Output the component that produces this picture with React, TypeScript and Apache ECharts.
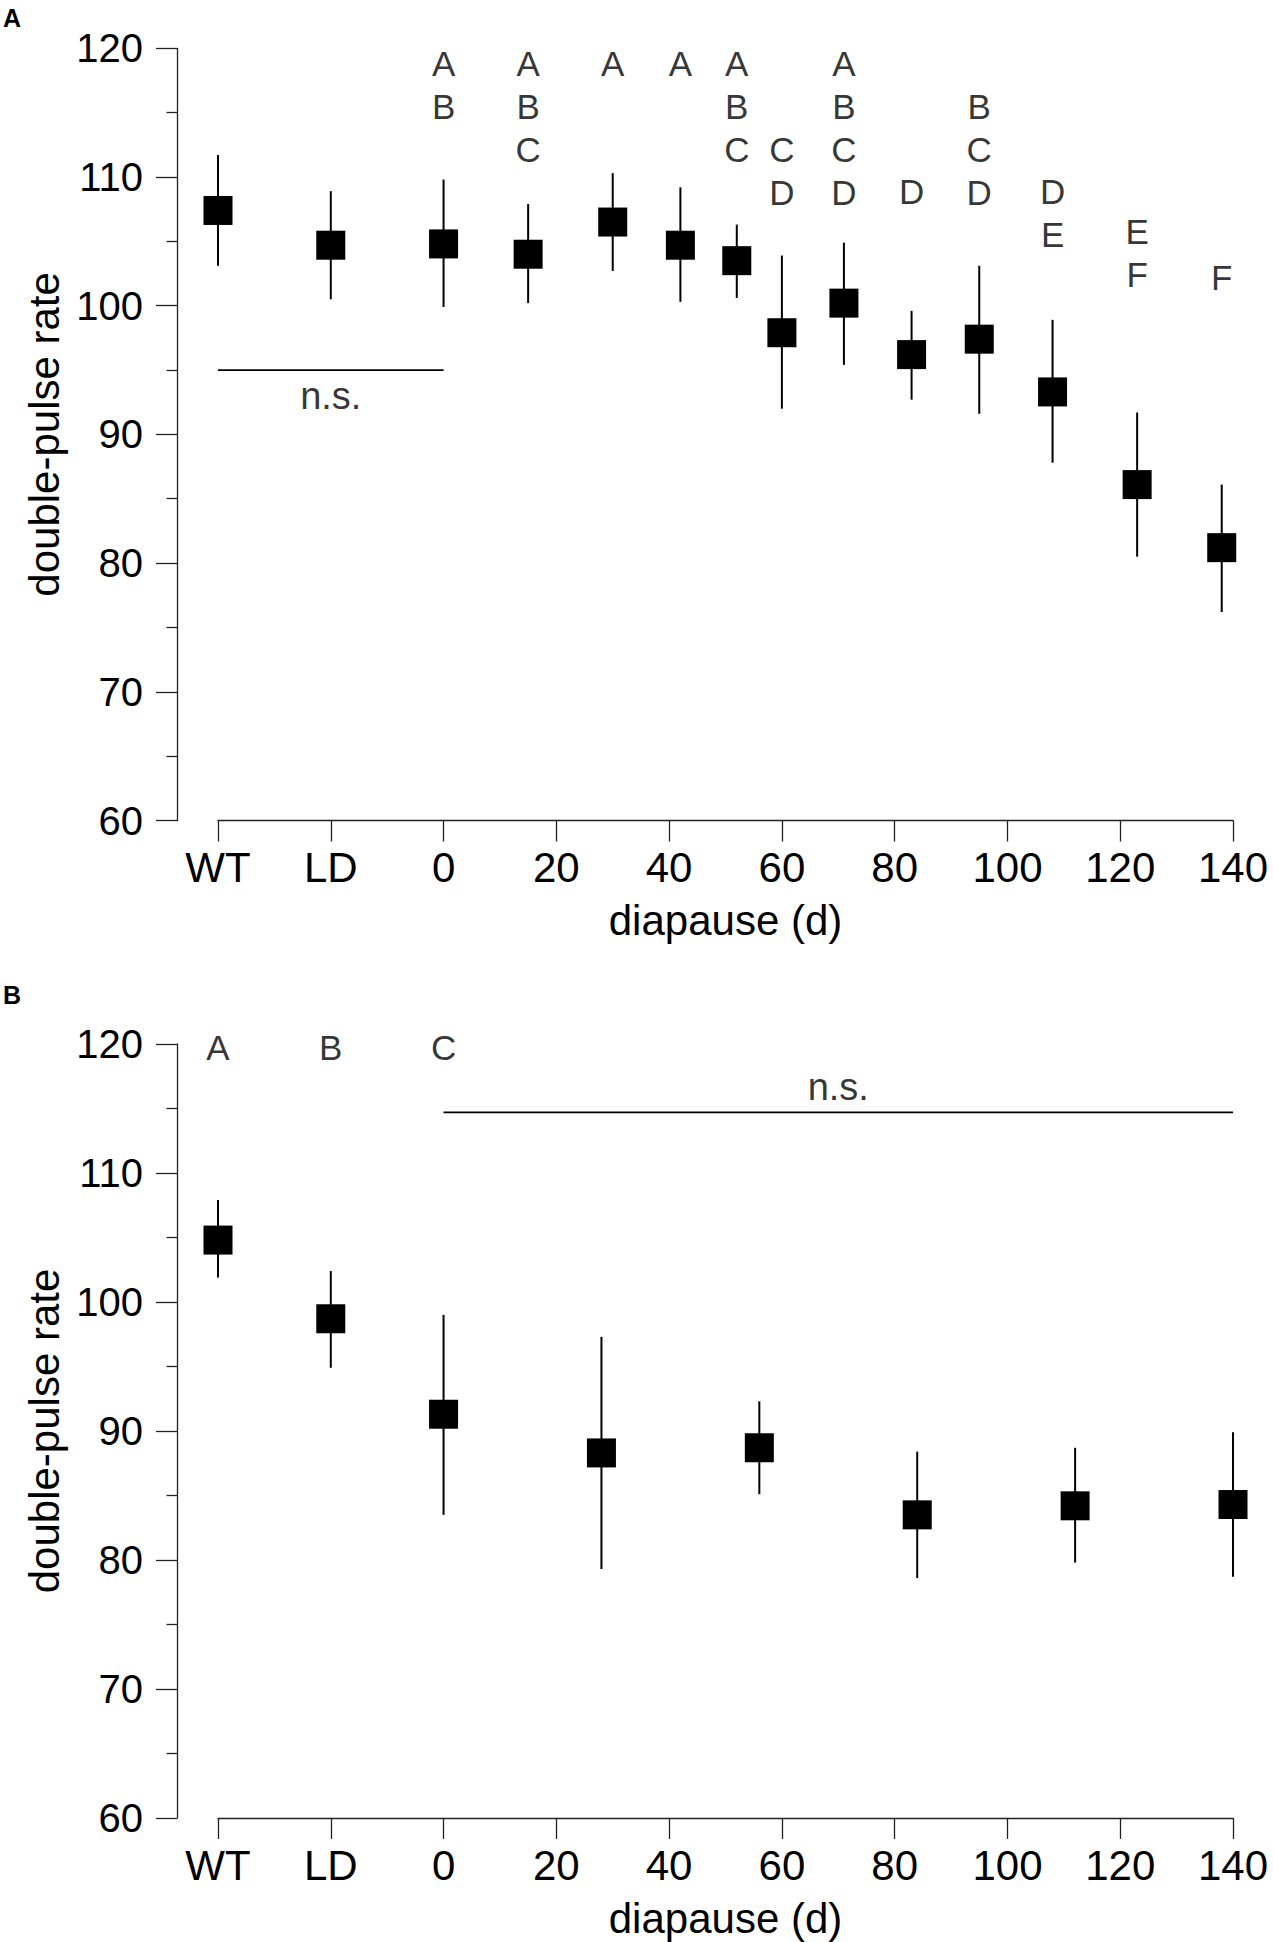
import React, { useEffect, useRef } from "react";
import * as echarts from "echarts";

// x positions: WT = -40, LD = -20, then diapause days
const xTickLabels: Record<string, string> = { "-40": "WT", "-20": "LD" };

// Panel A
const aX = [-40, -20, 0, 15, 30, 42, 52, 60, 71, 83, 95, 108, 123, 138];
const aMean = [107.4, 104.7, 104.8, 104.0, 106.5, 104.7, 103.5, 97.9, 100.2, 96.2, 97.4, 93.3, 86.1, 81.2];
const aLow = [103.1, 100.5, 99.9, 100.2, 102.7, 100.3, 100.6, 92.0, 95.4, 92.7, 91.6, 87.8, 80.5, 76.2];
const aHigh = [111.7, 108.9, 109.8, 107.9, 110.3, 109.2, 106.3, 103.9, 104.9, 99.6, 103.1, 98.9, 91.7, 86.1];

const aLetterX = [0, 15, 30, 42, 52, 60, 71, 83, 95, 108, 123, 138];
const aLetterText = ["A\nB", "A\nB\nC", "A", "A", "A\nB\nC", "C\nD", "A\nB\nC\nD", "D", "B\nC\nD", "D\nE", "E\nF", "F"];
const aLetterTop = [118.85, 118.85, 118.85, 118.85, 118.85, 112.15, 118.85, 108.9, 115.5, 108.9, 105.75, 102.2];

const aNsLine = [[-40, 95.0], [0, 95.0]];
const aNsText = [-20, 93.0];

// Panel B
const bX = [-40, -20, 0, 28, 56, 84, 112, 140];
const bMean = [104.8, 98.7, 91.3, 88.3, 88.7, 83.5, 84.2, 84.3];
const bLow = [101.9, 94.9, 83.5, 79.3, 85.1, 78.6, 79.8, 78.7];
const bHigh = [107.9, 102.4, 99.0, 97.3, 92.3, 88.4, 88.7, 89.9];

const bLetterX = [-40, -20, 0];
const bLetterText = ["A", "B", "C"];
const bLetterTop = [119.75, 119.75, 119.75];

const bNsLine = [[0, 114.7], [140, 114.7]];
const bNsText = [70, 116.7];

const FONT = "'Liberation Sans', Arial, Helvetica, sans-serif";
const AXIS_COLOR = "#222";
const LETTER_LH = 43.3;

function xAxisFor(gridIndex: number) {
  return {
    type: "value",
    gridIndex,
    min: -40,
    max: 140,
    interval: 20,
    name: "diapause (d)",
    nameLocation: "middle",
    nameGap: 79,
    nameTextStyle: { fontSize: 42, color: "#000", fontFamily: FONT },
    axisLine: { show: true, onZero: false, lineStyle: { color: AXIS_COLOR, width: 1.3 } },
    axisTick: { show: true, length: 21, lineStyle: { color: AXIS_COLOR, width: 1.3 } },
    splitLine: { show: false },
    axisLabel: {
      fontSize: 42,
      lineHeight: 42,
      color: "#000",
      fontFamily: FONT,
      margin: 26,
      formatter: (v: number) => xTickLabels[String(v)] ?? String(v),
    },
  };
}

function yAxisFor(gridIndex: number) {
  return {
    type: "value",
    gridIndex,
    position: "left",
    min: 60,
    max: 120,
    interval: 10,
    offset: 41,
    name: "double-pulse rate",
    nameLocation: "middle",
    nameRotate: 90,
    nameGap: 108,
    nameTextStyle: { fontSize: 42, color: "#000", fontFamily: FONT },
    axisLine: { show: true, onZero: false, lineStyle: { color: AXIS_COLOR, width: 1.3 } },
    axisTick: { show: true, length: 21, lineStyle: { color: AXIS_COLOR, width: 1.3 } },
    minorTick: { show: true, splitNumber: 2, length: 10.5, lineStyle: { color: AXIS_COLOR, width: 1.3 } },
    splitLine: { show: false },
    minorSplitLine: { show: false },
    axisLabel: { fontSize: 40, color: "#000", fontFamily: FONT, margin: 34 },
  };
}

function errorSeries(idx: number, xs: number[], mean: number[], low: number[], high: number[]) {
  return {
    type: "custom",
    xAxisIndex: idx,
    yAxisIndex: idx,
    silent: true,
    clip: false,
    encode: { x: 0, y: 1 },
    data: xs.map((x, i) => [x, mean[i], low[i], high[i]]),
    renderItem: (_p: any, api: any) => {
      const x = api.value(0);
      const c = api.coord([x, api.value(1)]);
      const lo = api.coord([x, api.value(2)]);
      const hi = api.coord([x, api.value(3)]);
      const s = 29;
      return {
        type: "group",
        children: [
          {
            type: "line",
            shape: { x1: lo[0], y1: lo[1], x2: hi[0], y2: hi[1] },
            style: { stroke: "#000", lineWidth: 2 },
          },
          {
            type: "rect",
            shape: { x: c[0] - s / 2, y: c[1] - s / 2, width: s, height: s },
            style: { fill: "#000" },
          },
        ],
      };
    },
  };
}

function letterSeries(idx: number, xs: number[], tops: number[], texts: string[]) {
  return {
    type: "scatter",
    xAxisIndex: idx,
    yAxisIndex: idx,
    silent: true,
    symbolSize: 0,
    clip: false,
    data: xs.map((x, i) => ({ value: [x, tops[i]], name: texts[i] })),
    label: {
      show: true,
      position: [0, 0],
      align: "center",
      verticalAlign: "top",
      offset: [0, -LETTER_LH / 2],
      fontSize: 35,
      lineHeight: LETTER_LH,
      color: "#000",
      fontFamily: FONT,
      formatter: (p: any) => p.name,
    },
  };
}

function nsSeries(idx: number, line: number[][], textPos: number[]) {
  return [
    {
      type: "line",
      xAxisIndex: idx,
      yAxisIndex: idx,
      silent: true,
      symbol: "none",
      data: line,
      lineStyle: { color: "#000", width: 1.8 },
    },
    {
      type: "scatter",
      xAxisIndex: idx,
      yAxisIndex: idx,
      silent: true,
      symbolSize: 0,
      data: [{ value: textPos, name: "n.s." }],
      label: {
        show: true,
        position: [0, 0],
        align: "center",
        verticalAlign: "middle",
        fontSize: 38,
        color: "#000",
        fontFamily: FONT,
        formatter: (p: any) => p.name,
      },
    },
  ];
}

export default function App() {
  const ref = useRef<HTMLDivElement>(null);
  useEffect(() => {
    if (!ref.current) return;
    const chart = echarts.init(ref.current, undefined, { renderer: "svg" });
    chart.setOption({
      animation: false,
      backgroundColor: "#fff",
      textStyle: { fontFamily: FONT },
      grid: [
        { left: 218, top: 48.3, width: 1015, height: 772.2 },
        { left: 218, top: 1044, width: 1015, height: 774 },
      ],
      xAxis: [xAxisFor(0), xAxisFor(1)],
      yAxis: [yAxisFor(0), yAxisFor(1)],
      graphic: [
        {
          type: "text",
          x: 3,
          y: 5,
          style: { text: "A", font: "bold 25px 'Liberation Sans', Arial, sans-serif", fill: "#000" },
        },
        {
          type: "text",
          x: 3,
          y: 982,
          style: { text: "B", font: "bold 25px 'Liberation Sans', Arial, sans-serif", fill: "#000" },
        },
      ],
      series: [
        ...nsSeries(0, aNsLine, aNsText),
        errorSeries(0, aX, aMean, aLow, aHigh),
        letterSeries(0, aLetterX, aLetterTop, aLetterText),
        ...nsSeries(1, bNsLine, bNsText),
        errorSeries(1, bX, bMean, bLow, bHigh),
        letterSeries(1, bLetterX, bLetterTop, bLetterText),
      ],
    });
    return () => chart.dispose();
  }, []);
  return (
    <div
      ref={ref}
      style={{ position: "absolute", left: 0, top: 0, width: 1273, height: 1942, background: "#fff" }}
    />
  );
}
